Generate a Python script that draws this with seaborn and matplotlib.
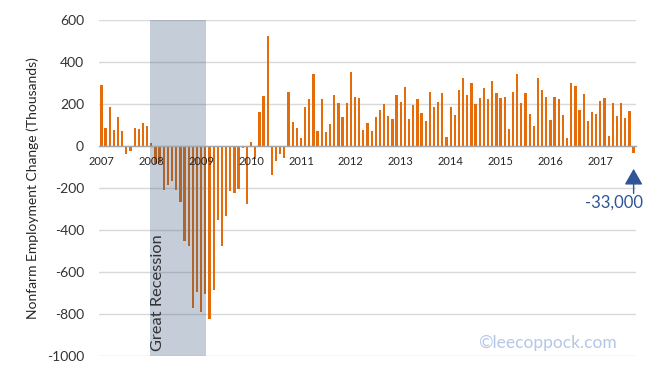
import matplotlib
matplotlib.use("Agg")
import matplotlib.pyplot as plt
import seaborn as sns
import pandas as pd
import numpy as np

# Monthly nonfarm employment change (thousands), Jan 2007 - Sep 2017
y2007 = [293, 86, 187, 77, 139, 72, -37, -22, 86, 82, 110, 96]
y2008 = [14, -86, -78, -210, -185, -165, -210, -266, -452, -475, -770, -695]
y2009 = [-790, -703, -823, -686, -352, -476, -332, -213, -222, -206, -7, -273]
y2010 = [19, -62, 162, 239, 522, -137, -70, -37, -56, 258, 114, 86]
y2011 = [38, 186, 224, 345, 72, 224, 67, 105, 243, 205, 138, 205]
y2012 = [355, 235, 230, 77, 110, 72, 139, 173, 202, 144, 130, 245]
y2013 = [211, 283, 130, 197, 226, 158, 120, 259, 187, 211, 254, 43]
y2014 = [187, 149, 269, 326, 245, 302, 202, 230, 278, 226, 312, 254]
y2015 = [230, 235, 82, 259, 341, 206, 254, 154, 96, 322, 269, 235]
y2016 = [125, 235, 226, 149, 38, 298, 288, 173, 250, 120, 163, 154]
y2017 = [216, 230, 48, 206, 144, 206, 134, 168, -33]

years = ["2007", "2008", "2009", "2010", "2011", "2012", "2013", "2014",
         "2015", "2016", "2017"]
yticks = [-1000, -800, -600, -400, -200, 0, 200, 400, 600]
ytick_labels = ["-1000", "-800", "-600", "-400", "-200", "0", "200", "400", "600"]
recession_label = "Great Recession"
recession_span = (11.7, 25.1)  # in month-index units (shaded band)
last_label = "-33,000"
credit = "\u00a9leecoppock.com"

values = (y2007 + y2008 + y2009 + y2010 + y2011 + y2012 + y2013 + y2014
          + y2015 + y2016 + y2017)
months = pd.date_range("2007-01-01", periods=len(values), freq="MS")
df = pd.DataFrame({"month": months.strftime("%Y-%m"), "change": values})

sns.set_style("white")
plt.rcParams["font.family"] = ["Lato", "DejaVu Sans"]

fig = plt.figure(figsize=(6.53, 3.73), dpi=100)
ax = fig.add_axes([0.1521, 0.0445, 0.8214, 0.9019])

sns.barplot(data=df, x="month", y="change", color="#E46C0A", saturation=1,
            width=0.55, errorbar=None, ax=ax, zorder=2, linewidth=0,
            antialiased=False)

n = len(values)
ax.set_xlim(-0.5, n - 0.5)
ax.set_ylim(-1000, 600)

# grid
ax.set_yticks(yticks)
ax.set_yticklabels(ytick_labels)
ax.yaxis.grid(True, color="#D9D9D9", lw=1, zorder=0)
ax.set_axisbelow(True)
ax.tick_params(axis="y", length=0, pad=11, labelsize=10, labelcolor="#333333")

# x axis at zero
for s in ["top", "right", "left"]:
    ax.spines[s].set_visible(False)
ax.spines["bottom"].set_position(("data", 0))
ax.spines["bottom"].set_color("#A6A6A6")
ax.spines["bottom"].set_linewidth(1)
ax.spines["bottom"].set_zorder(4)
ax.set_xticks([12 * i for i in range(len(years))])
ax.set_xticklabels(years)
ax.set_xticks(np.arange(-0.5, n, 1.0), minor=True)
ax.tick_params(axis="x", which="major", length=0, pad=7, labelsize=8,
               labelcolor="#262626")
ax.tick_params(axis="x", which="minor", length=3.5, width=0.8, color="#A6A6A6",
               direction="out")
ax.set_xlabel("")
ax.set_ylabel("")

# recession band
ax.axvspan(*recession_span, color="#34547A", alpha=0.29, lw=0, zorder=3)
ax.xaxis.set_zorder(5)
ax.text(13.6, -975, recession_label, rotation=90, ha="center", va="bottom",
        fontsize=11.8, color="#333333", zorder=5)

# y label
fig.text(33 / 653, 0.497, "Nonfarm Employment Change (Thousands)", rotation=90,
         ha="center", va="center", fontsize=10, color="#262626")

# annotation for last value
ax.annotate("", xy=(n - 1, -108), xytext=(n - 1, -225),
            arrowprops=dict(arrowstyle="-|>,head_width=0.4,head_length=0.7",
                            mutation_scale=14, lw=1, color="#2F5597",
                            shrinkA=0, shrinkB=0), zorder=6)
ax.text(0.9596, 0.456, last_label, transform=ax.transAxes, ha="center",
        va="center", fontsize=12, color="#2F5597", clip_on=False)

ax.text(0.965, 0.04, credit, transform=ax.transAxes, ha="right", va="center",
        fontsize=12.5, color="#B4C7E7")

fig.savefig("out.png", dpi=100)
